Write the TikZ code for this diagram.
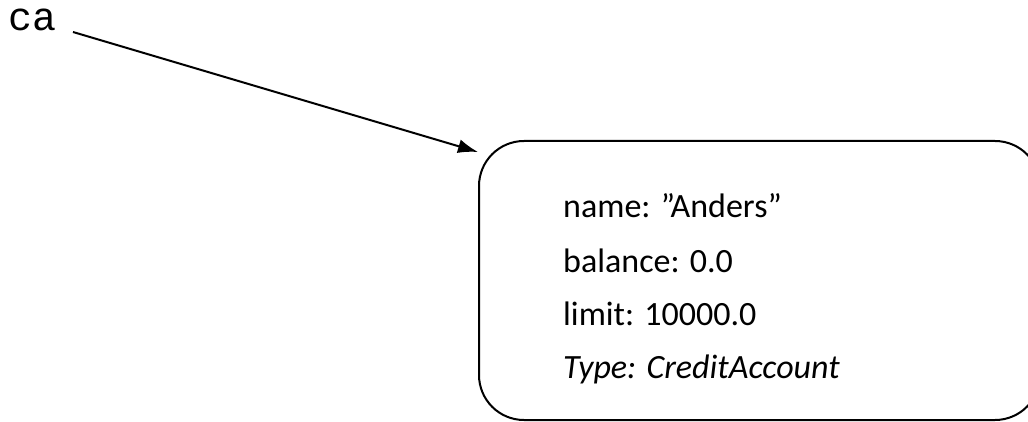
\documentclass[tikz,border=0pt]{standalone}
\usepackage{fontspec}
\setmainfont{Carlito}
\newfontfamily\refmono{Liberation Mono}
\usetikzlibrary{arrows.meta}
\begin{document}
\begin{tikzpicture}[x=1pt,y=-1pt,
  objbox/.style={draw, line width=2pt, rounded corners=45pt, rectangle,
    minimum width=561pt, minimum height=279pt, inner sep=0pt},
  field/.style={anchor=base west, inner sep=0pt, font=\fontsize{34}{40}\selectfont},
  varname/.style={anchor=base west, inner sep=0pt, font=\refmono\fontsize{40}{44}\selectfont},
  refarrow/.style={line width=2pt, -{Latex[length=20pt,width=14pt]}}]
  \useasboundingbox (0,0) rectangle (1028,422);
  \clip (0,0) rectangle (1028,422);

  % variable name and the reference it holds
  \node[varname] (ca) at (8,31) {ca};
  \coordinate (tail) at (73,32);
  \coordinate (tip) at (478,152);
  \draw[refarrow] (tail) -- (tip);

  % the object the reference points to
  \node[objbox] (obj) at (759.5,280.5) {};
  \node[field] (fname) at (563,218) {name: ”Anders”};
  \node[field] (fbal) at (563,272) {balance: 0.0};
  \node[field] (flim) at (563,325) {limit: 10000.0};
  \node[field] (ftype) at (563,378) {\itshape Type: CreditAccount};
\end{tikzpicture}
\end{document}
